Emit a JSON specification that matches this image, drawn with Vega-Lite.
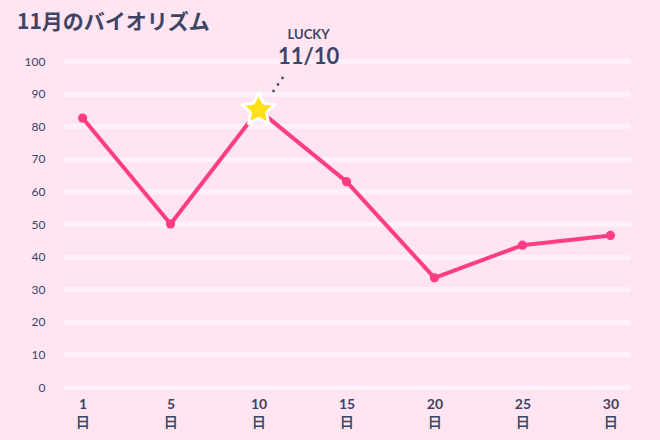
{
  "$schema": "https://vega.github.io/schema/vega-lite/v6.json",
  "autosize": "none",
  "width": 563,
  "height": 326,
  "padding": {"left": 65, "top": 61, "right": 32, "bottom": 53},
  "background": "#FFE4F1",
  "title": {
    "text": "11月のバイオリズム",
    "anchor": "start",
    "frame": "group",
    "dx": -48,
    "offset": -4,
    "font": "Noto Sans CJK JP",
    "fontSize": 21,
    "fontWeight": "bold",
    "color": "#3D4466"
  },
  "config": {
    "view": {"stroke": null},
    "axis": {"labelFont": "Lato", "labelColor": "#3D4466", "domain": false, "ticks": false}
  },
  "data": {
    "values": [
      {"day": "1", "value": 82.5},
      {"day": "5", "value": 50},
      {"day": "10", "value": 85},
      {"day": "15", "value": 63},
      {"day": "20", "value": 33.5},
      {"day": "25", "value": 43.5},
      {"day": "30", "value": 46.5}
    ]
  },
  "encoding": {
    "x": {
      "field": "day",
      "type": "ordinal",
      "sort": null,
      "scale": {"type": "point", "padding": 0.2},
      "axis": {
        "title": null,
        "labelAngle": 0,
        "labelExpr": "[datum.label, '日']",
        "labelFontSize": 14,
        "labelFontWeight": "bold",
        "labelLineHeight": 18,
        "labelPadding": 10,
        "grid": false
      }
    },
    "y": {
      "field": "value",
      "type": "quantitative",
      "scale": {"domain": [0, 100], "nice": false},
      "axis": {
        "title": null,
        "values": [0, 10, 20, 30, 40, 50, 60, 70, 80, 90, 100],
        "labelFontSize": 12,
        "labelPadding": 20,
        "grid": true,
        "gridColor": "#FFF1F7",
        "gridWidth": 5,
        "gridCap": "round"
      }
    }
  },
  "layer": [
    {
      "mark": {"type": "line", "color": "#FF3D86", "strokeWidth": 4, "strokeJoin": "round"}
    },
    {
      "transform": [{"filter": "datum.day != '10'"}],
      "mark": {"type": "point", "filled": true, "opacity": 1, "color": "#FF3D86", "size": 85}
    },
    {
      "transform": [{"filter": "datum.day == '10'"}],
      "mark": {
        "type": "point",
        "shape": "M0,-1L0.294,-0.405L0.951,-0.309L0.476,0.155L0.588,0.809L0,0.5L-0.588,0.809L-0.476,0.155L-0.951,-0.309L-0.294,-0.405Z",
        "filled": true,
        "opacity": 1,
        "fill": "#FFE11A",
        "stroke": "white",
        "strokeWidth": 3,
        "strokeJoin": "round",
        "size": 1150
      }
    },
    {
      "transform": [{"filter": "datum.day == '10'"}],
      "mark": {
        "type": "point",
        "shape": "M-0.58,0.65a0.13,0.13 0 1,0 0.26,0a0.13,0.13 0 1,0 -0.26,0ZM-0.13,0a0.13,0.13 0 1,0 0.26,0a0.13,0.13 0 1,0 -0.26,0ZM0.32,-0.65a0.13,0.13 0 1,0 0.26,0a0.13,0.13 0 1,0 -0.26,0Z",
        "filled": true,
        "opacity": 1,
        "fill": "#3D4466",
        "size": 400,
        "xOffset": 19.5,
        "yOffset": -25.5
      }
    },
    {
      "transform": [{"filter": "datum.day == '10'"}],
      "mark": {
        "type": "text",
        "text": "LUCKY",
        "font": "Lato",
        "fontWeight": "bold",
        "fontSize": 13,
        "color": "#3D4466",
        "dx": 50,
        "dy": -75
      }
    },
    {
      "transform": [{"filter": "datum.day == '10'"}],
      "mark": {
        "type": "text",
        "text": "11/10",
        "font": "Lato",
        "fontWeight": "bold",
        "fontSize": 22,
        "color": "#3D4466",
        "dx": 50,
        "dy": -53
      }
    }
  ]
}
